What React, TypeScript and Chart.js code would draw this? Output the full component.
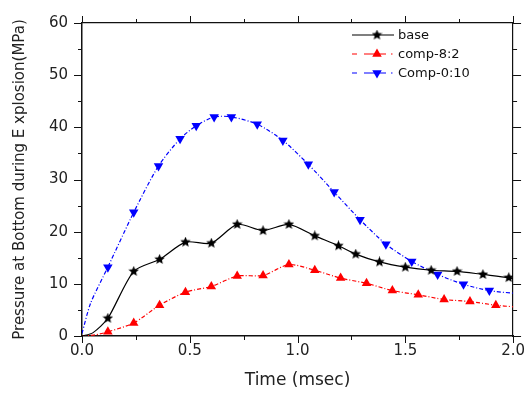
import React, { useEffect, useRef } from "react";
import { Chart, registerables } from "chart.js";

Chart.register(...registerables);

// ---- data ----
const baseTime = [0, 0.05, 0.12, 0.24, 0.36, 0.48, 0.60, 0.72, 0.84, 0.96, 1.08, 1.19, 1.27, 1.38, 1.50, 1.62, 1.74, 1.86, 1.98, 2.0];
const basePressure = [0, 0.6, 3.4, 12.4, 14.7, 18.0, 17.8, 21.4, 20.2, 21.4, 19.2, 17.3, 15.7, 14.2, 13.2, 12.6, 12.4, 11.8, 11.2, 11.0];

const comp82Time = [0, 0.06, 0.12, 0.24, 0.36, 0.48, 0.60, 0.72, 0.84, 0.96, 1.08, 1.20, 1.32, 1.44, 1.56, 1.68, 1.80, 1.92, 2.0];
const comp82Pressure = [0, 0.2, 0.8, 2.5, 5.9, 8.4, 9.5, 11.5, 11.6, 13.7, 12.6, 11.1, 10.1, 8.7, 7.9, 7.0, 6.6, 5.9, 5.6];

const comp010Time = [0, 0.04, 0.12, 0.24, 0.355, 0.455, 0.53, 0.613, 0.693, 0.813, 0.932, 1.05, 1.17, 1.29, 1.41, 1.53, 1.65, 1.77, 1.89, 2.0];
const comp010Pressure = [0.5, 6.3, 13.2, 23.7, 32.6, 37.8, 40.3, 42.0, 42.0, 40.6, 37.5, 32.9, 27.6, 22.3, 17.6, 14.3, 11.8, 9.9, 8.7, 8.2];

const seriesNames = ["base", "comp-8:2", "Comp-0:10"];
const xTitle = "Time (msec)";
const yTitle = "Pressure at Bottom during E xplosion(MPa)";

const FONT = "'DejaVu Sans', sans-serif";

function makeStar(size: number, color: string) {
  const c = document.createElement("canvas");
  c.width = size;
  c.height = size;
  const g = c.getContext("2d")!;
  const cx = size / 2, cy = size / 2;
  const ro = size / 2, ri = ro * 0.45;
  g.beginPath();
  for (let i = 0; i < 10; i++) {
    const r = i % 2 === 0 ? ro : ri;
    const a = -Math.PI / 2 + (i * Math.PI) / 5;
    const px = cx + r * Math.cos(a), py = cy + r * Math.sin(a);
    if (i === 0) g.moveTo(px, py); else g.lineTo(px, py);
  }
  g.closePath();
  g.fillStyle = color;
  g.fill();
  return c;
}

const toXY = (xs: number[], ys: number[]) => xs.map((x, i) => ({ x, y: ys[i] }));

export default function App() {
  const ref = useRef<HTMLCanvasElement>(null);
  useEffect(() => {
    const star = makeStar(11, "#000");
    const markerRadius = (ctx: any) => {
      const x = ctx.raw ? ctx.raw.x : 0;
      return x < 0.1 || x > 1.99 ? 0 : 5.5;
    };
    const dashes = [[], [4, 2, 1, 2], [4, 2, 1, 2]];
    const colors = ["#000000", "#ff0000", "#0000ff"];

    const frameTicks = {
      id: "frameTicks",
      afterDraw(chart: any) {
        const { ctx, chartArea: a, scales } = chart;
        const xs = scales.x, ys = scales.y;
        ctx.save();
        ctx.strokeStyle = "#111";
        ctx.lineWidth = 1;
        for (let v = 0; v <= 2.0001; v += 0.25) {
          const px = Math.round(xs.getPixelForValue(v)) + 0.5;
          const major = Math.abs(v * 2 - Math.round(v * 2)) < 1e-6;
          const len = major ? 7 : 4;
          ctx.beginPath();
          ctx.moveTo(px, a.bottom); ctx.lineTo(px, a.bottom + len);
          ctx.moveTo(px, a.top); ctx.lineTo(px, a.top - len);
          ctx.stroke();
        }
        for (let v = 0; v <= 60.0001; v += 5) {
          const py = Math.round(ys.getPixelForValue(v)) + 0.5;
          const major = v % 10 === 0;
          const len = major ? 8 : 4;
          ctx.beginPath();
          ctx.moveTo(a.left, py); ctx.lineTo(a.left - len, py);
          ctx.moveTo(a.right, py); ctx.lineTo(a.right + len, py);
          ctx.stroke();
        }
        // titles
        ctx.fillStyle = "#222";
        ctx.font = `17px ${FONT}`;
        ctx.textAlign = "center";
        ctx.textBaseline = "middle";
        ctx.fillText(xTitle, (a.left + a.right) / 2, 381);
        ctx.save();
        ctx.translate(20, (a.top + a.bottom) / 2);
        ctx.rotate(-Math.PI / 2);
        ctx.font = `15px ${FONT}`;
        ctx.fillText(yTitle, 0, 0);
        ctx.restore();
        // legend
        const ly = [35, 54, 73];
        ctx.font = `13px ${FONT}`;
        ctx.textAlign = "left";
        for (let i = 0; i < 3; i++) {
          ctx.save();
          ctx.strokeStyle = colors[i];
          ctx.lineWidth = 1.2;
          if (i === 0) {
            ctx.beginPath();
            ctx.moveTo(352, ly[i]); ctx.lineTo(394, ly[i]);
            ctx.stroke();
            ctx.drawImage(star, 377 - 5.5, ly[i] - 5.5);
          } else {
            ctx.beginPath();
            ctx.moveTo(352, ly[i]); ctx.lineTo(357, ly[i]);
            ctx.moveTo(364, ly[i]); ctx.lineTo(386, ly[i]);
            ctx.moveTo(391, ly[i]); ctx.lineTo(392.5, ly[i]);
            ctx.stroke();
            ctx.fillStyle = colors[i];
            const r = 5.5;
            const s = i === 1 ? 1 : -1;
            ctx.beginPath();
            ctx.moveTo(377, ly[i] - s * r);
            ctx.lineTo(377 + r * 0.866, ly[i] + s * r * 0.5);
            ctx.lineTo(377 - r * 0.866, ly[i] + s * r * 0.5);
            ctx.closePath();
            ctx.fill();
          }
          ctx.restore();
          ctx.fillStyle = "#111";
          ctx.fillText(seriesNames[i], 398, ly[i] + 1);
        }
        ctx.restore();
      },
    };

    const chart = new Chart(ref.current!, {
      type: "line",
      data: {
        datasets: [
          {
            label: seriesNames[0],
            data: toXY(baseTime, basePressure),
            borderColor: colors[0],
            backgroundColor: colors[0],
            borderWidth: 1.2,
            pointStyle: star as any,
            pointRadius: markerRadius,
            tension: 0.25,
          },
          {
            label: seriesNames[1],
            data: toXY(comp82Time, comp82Pressure),
            borderColor: colors[1],
            backgroundColor: colors[1],
            borderWidth: 1.2,
            borderDash: dashes[1],
            pointStyle: "triangle",
            pointRadius: markerRadius,
            pointBorderWidth: 0,
            tension: 0.25,
          },
          {
            label: seriesNames[2],
            data: toXY(comp010Time, comp010Pressure),
            borderColor: colors[2],
            backgroundColor: colors[2],
            borderWidth: 1.2,
            borderDash: dashes[2],
            pointStyle: "triangle",
            pointRotation: 180,
            pointRadius: markerRadius,
            pointBorderWidth: 0,
            tension: 0.25,
          },
        ],
      },
      options: {
        responsive: false,
        animation: false,
        layout: { padding: 0 },
        plugins: { legend: { display: false }, tooltip: { enabled: false } },
        scales: {
          x: {
            type: "linear",
            min: 0,
            max: 2,
            ticks: {
              stepSize: 0.5,
              callback: (v: any) => Number(v).toFixed(1),
              font: { family: FONT, size: 15 },
              color: "#222",
              padding: 6,
              maxRotation: 0,
            },
            grid: { display: true, drawOnChartArea: false, drawTicks: false },
            border: { display: true, color: "#111", width: 1.5 },
            afterFit: (s: any) => { s.height = 60; },
          },
          x2: {
            type: "linear",
            position: "top",
            min: 0,
            max: 2,
            ticks: { display: false },
            grid: { display: true, drawOnChartArea: false, drawTicks: false },
            border: { display: true, color: "#111", width: 1.2 },
            afterFit: (s: any) => { s.height = 13; },
          },
          y: {
            type: "linear",
            min: 0,
            max: 60,
            ticks: {
              stepSize: 10,
              font: { family: FONT, size: 15 },
              color: "#222",
              padding: 14,
            },
            grid: { display: true, drawOnChartArea: false, drawTicks: false },
            border: { display: true, color: "#111", width: 1.5 },
            afterFit: (s: any) => { s.width = 82; },
          },
          y2: {
            type: "linear",
            position: "right",
            min: 0,
            max: 60,
            ticks: { display: false },
            grid: { display: true, drawOnChartArea: false, drawTicks: false },
            border: { display: true, color: "#111", width: 1.2 },
            afterFit: (s: any) => { s.width = 15; },
          },
        },
      },
      plugins: [frameTicks],
    });
    return () => chart.destroy();
  }, []);

  return (
    <div style={{ position: "fixed", left: 0, top: 0, width: 531, height: 396, background: "#fff" }}>
      <canvas ref={ref} width={531} height={396} />
    </div>
  );
}
